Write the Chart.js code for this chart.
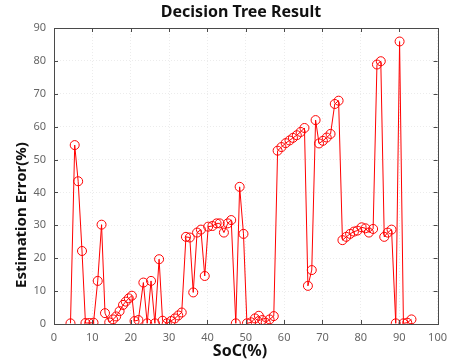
<!DOCTYPE html>
<html>
<head>
<meta charset="utf-8">
<script src="https://cdn.jsdelivr.net/npm/chart.js@4.4.1/dist/chart.umd.min.js"></script>
<style>
html,body{margin:0;padding:0;background:#fff;}
#wrap{width:454px;height:364px;position:relative;}
</style>
</head>
<body>
<div id="wrap"><canvas id="c"></canvas></div>
<script>
const socValues = [4.3,5.4,6.3,7.3,8.2,9.2,10.3,11.4,12.4,13.3,14.4,15.4,16.2,17.1,18.0,18.7,19.5,20.3,21.0,22.0,23.3,24.3,25.3,26.3,27.4,28.3,29.4,30.5,31.5,32.4,33.3,34.4,35.4,36.3,37.3,38.3,39.3,40.2,41.3,42.4,43.2,44.3,45.3,46.2,47.4,48.4,49.4,50.3,51.4,52.4,53.4,54.3,55.2,56.2,57.3,58.3,59.3,60.4,61.4,62.3,63.3,64.3,65.3,66.2,67.2,68.2,69.1,70.1,71.1,72.1,73.2,74.2,75.2,76.2,77.2,78.2,79.1,80.2,81.2,82.1,83.2,84.2,85.2,86.1,87.0,88.0,89.1,90.1,91.1,92.1,93.2];
const errorValues = [0.2,54.4,43.4,22.2,0.3,0.3,0.4,13.1,30.2,3.3,0.5,1.4,2.3,3.9,5.8,6.8,7.8,8.6,0.9,1.2,12.6,0.2,13.1,0.2,19.7,1.0,0.2,0.9,1.7,2.6,3.5,26.5,26.3,9.6,27.8,28.7,14.6,29.6,29.8,30.6,30.6,27.8,30.6,31.6,0.2,41.7,27.4,0.2,0.5,1.7,2.5,1.2,0.4,1.4,2.4,52.7,53.8,55.0,55.8,56.6,57.4,58.4,59.6,11.6,16.4,62.0,54.9,55.7,56.7,57.8,66.9,67.9,25.5,26.5,27.4,28.1,28.4,29.4,29.1,27.8,28.9,78.9,79.9,26.5,27.8,28.7,0.2,85.9,0.2,0.4,1.4];
const xTicks = [0,10,20,30,40,50,60,70,80,90,100];
const yTicks = [0,10,20,30,40,50,60,70,80,90];
const titleText = "Decision Tree Result";
const xTitle = "SoC(%)";
const yTitle = "Estimation Error(%)";

const points = socValues.map((x,i)=>({x:x,y:errorValues[i]}));

const frame = {
  id:'frame',
  afterDraw(chart){
    const ctx = chart.ctx, a = chart.chartArea;
    const xs = chart.scales.x, ys = chart.scales.y;
    ctx.save();
    ctx.strokeStyle = '#4a4a4a';
    ctx.lineWidth = 1;
    ctx.strokeRect(Math.round(a.left)+0.5, Math.round(a.top)+0.5, Math.round(a.right-a.left), Math.round(a.bottom-a.top));
    ctx.beginPath();
    xTicks.forEach(v=>{
      const px = Math.round(xs.getPixelForValue(v))+0.5;
      ctx.moveTo(px,a.bottom); ctx.lineTo(px,a.bottom-4);
      ctx.moveTo(px,a.top); ctx.lineTo(px,a.top+4);
    });
    yTicks.forEach(v=>{
      const py = Math.round(ys.getPixelForValue(v))+0.5;
      ctx.moveTo(a.left,py); ctx.lineTo(a.left+4,py);
      ctx.moveTo(a.right,py); ctx.lineTo(a.right-4,py);
    });
    ctx.stroke();
    ctx.fillStyle = '#111';
    ctx.textAlign = 'center';
    ctx.textBaseline = 'middle';
    ctx.font = 'bold 16px "Noto Sans", sans-serif';
    ctx.fillText(titleText, 241, 12);
    ctx.font = 'bold 16px "Noto Sans", sans-serif';
    ctx.fillText(xTitle, 240, 351);
    ctx.font = 'bold 15px "Noto Sans", sans-serif';
    ctx.translate(22, 215);
    ctx.rotate(-Math.PI/2);
    ctx.fillText(yTitle, 0, 0);
    ctx.restore();
  }
};

new Chart(document.getElementById('c'), {
  type:'scatter',
  data:{datasets:[{
    data:points,
    showLine:true,
    borderColor:'#ff0000',
    borderWidth:1,
    backgroundColor:'rgba(0,0,0,0)',
    pointRadius:4.5,
    pointHoverRadius:4.5,
    pointBorderWidth:1,
    pointBorderColor:'#ff0000',
    pointBackgroundColor:'rgba(0,0,0,0)'
  }]},
  options:{
    responsive:true,
    maintainAspectRatio:false,
    animation:false,
    layout:{padding:{top:28,right:10,left:0,bottom:0}},
    plugins:{legend:{display:false},title:{display:false},tooltip:{enabled:false}},
    scales:{
      x:{
        type:'linear',min:0,max:100,
        afterBuildTicks(s){s.ticks = xTicks.map(v=>({value:v}));},
        afterFit(s){s.height = 40;},
        grid:{color:'#ececec',drawTicks:false,lineWidth:1},
        border:{display:false,dash:[1,2]},
        ticks:{color:'#666',font:{family:'"Noto Sans", sans-serif',size:11},padding:7,maxRotation:0}
      },
      y:{
        type:'linear',min:0,max:90,
        afterBuildTicks(s){s.ticks = yTicks.map(v=>({value:v}));},
        afterFit(s){s.width = 54;},
        grid:{color:'#ececec',drawTicks:false,lineWidth:1},
        border:{display:false,dash:[1,2]},
        ticks:{color:'#666',font:{family:'"Noto Sans", sans-serif',size:11},padding:8}
      }
    }
  },
  plugins:[frame]
});
</script>
</body>
</html>
